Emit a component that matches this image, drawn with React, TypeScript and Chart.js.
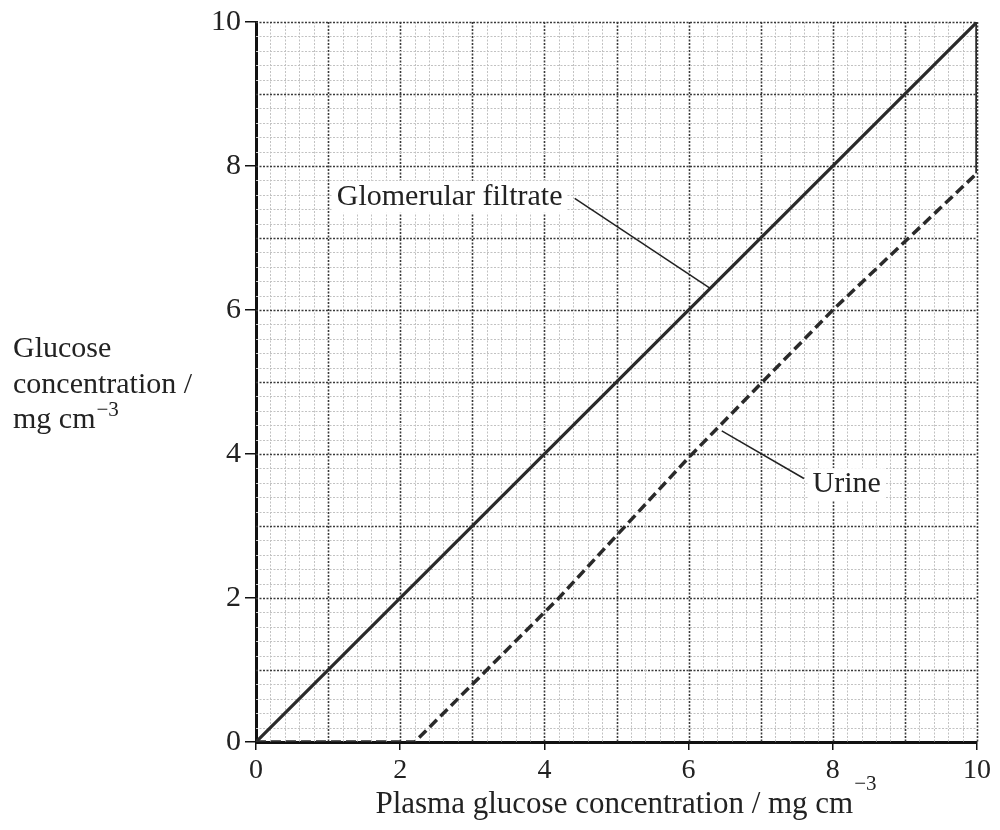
import React, { useEffect, useRef } from "react";
import { Chart, registerables } from "chart.js";

Chart.register(...registerables);

// ---- data ----
const plasmaFiltrate = [0, 10];
const filtrateGlucose = [0, 10];
const plasmaUrine = [0, 2.2, 4.2, 6, 8, 10];
const urineGlucose = [0, 0, 2, 3.95, 6, 7.9];
const edgePlasma = [10, 10];
const edgeGlucose = [10, 7.9];
const xTickValues = [0, 2, 4, 6, 8, 10];
const yTickValues = [0, 2, 4, 6, 8, 10];
const filtrateLabel = "Glomerular filtrate";
const urineLabel = "Urine";
const yTitleLines = ["Glucose", "concentration /", "mg cm"];
const xTitleText = "Plasma glucose concentration / mg cm";
const unitExponent = "\u22123";

// annotation anchors in data units
const annotations = [
  { text: filtrateLabel, textX: 1.12, textY: 7.46, from: [4.42, 7.55], to: [6.3, 6.3] },
  { text: urineLabel, textX: 7.72, textY: 3.47, from: [6.46, 4.32], to: [7.6, 3.66] },
];

const SERIF = "'Liberation Serif', 'Times New Roman', serif";
const INK = "#222";

const paperPlugin = {
  id: "paper",
  beforeDatasetsDraw(chart: any) {
    const { ctx, chartArea, scales } = chart;
    const xs = scales.x;
    const ys = scales.y;
    ctx.save();
    for (let i = 1; i <= 50; i++) {
      const v = i * 0.2;
      const major = i % 5 === 0;
      ctx.strokeStyle = major ? "#3a3a3a" : "#c2c2c2";
      ctx.lineWidth = major ? 1.6 : 1;
      ctx.setLineDash([2, 1.5]);
      const px = Math.round(xs.getPixelForValue(v)) + 0.5;
      const py = Math.round(ys.getPixelForValue(v)) + 0.5;
      ctx.beginPath();
      ctx.moveTo(px, chartArea.top);
      ctx.lineTo(px, chartArea.bottom);
      ctx.stroke();
      ctx.beginPath();
      ctx.moveTo(chartArea.left, py);
      ctx.lineTo(chartArea.right, py);
      ctx.stroke();
    }
    ctx.restore();
  },
  afterDatasetsDraw(chart: any) {
    const { ctx, scales } = chart;
    const xs = scales.x;
    const ys = scales.y;
    ctx.save();
    ctx.font = `30px ${SERIF}`;
    ctx.textBaseline = "alphabetic";
    ctx.textAlign = "left";
    for (const a of annotations) {
      const tx = xs.getPixelForValue(a.textX);
      const ty = ys.getPixelForValue(a.textY);
      const w = ctx.measureText(a.text).width;
      ctx.fillStyle = "#fff";
      ctx.fillRect(tx - 4, ty - 24, w + 8, 32);
      ctx.fillStyle = INK;
      ctx.fillText(a.text, tx, ty);
      ctx.strokeStyle = INK;
      ctx.lineWidth = 1.5;
      ctx.setLineDash([]);
      ctx.beginPath();
      ctx.moveTo(xs.getPixelForValue(a.from[0]), ys.getPixelForValue(a.from[1]));
      ctx.lineTo(xs.getPixelForValue(a.to[0]), ys.getPixelForValue(a.to[1]));
      ctx.stroke();
    }
    ctx.restore();
  },
  afterDraw(chart: any) {
    const { ctx } = chart;
    ctx.save();
    ctx.fillStyle = INK;
    ctx.textBaseline = "alphabetic";
    ctx.textAlign = "left";
    // y title (horizontal, three lines)
    ctx.font = `30px ${SERIF}`;
    const baselines = [357, 393, 428];
    yTitleLines.forEach((line, i) => ctx.fillText(line, 13, baselines[i]));
    const mgw = ctx.measureText(yTitleLines[2]).width;
    ctx.font = `21px ${SERIF}`;
    ctx.fillText(unitExponent, 13 + mgw + 1, 416);
    // x title
    ctx.font = `31px ${SERIF}`;
    const tw = ctx.measureText(xTitleText).width;
    ctx.font = `21px ${SERIF}`;
    const ew = ctx.measureText(unitExponent).width;
    const cx = 626;
    const left = cx - (tw + ew + 1) / 2;
    ctx.font = `31px ${SERIF}`;
    ctx.fillText(xTitleText, left, 813);
    ctx.font = `21px ${SERIF}`;
    ctx.fillText(unitExponent, left + tw + 1, 790);
    ctx.restore();
  },
};

export default function App() {
  const ref = useRef<HTMLCanvasElement | null>(null);

  useEffect(() => {
    document.body.style.margin = "0";
    const canvas = ref.current;
    if (!canvas) return;
    const chart = new Chart(canvas, {
      type: "scatter",
      data: {
        datasets: [
          {
            label: filtrateLabel,
            data: plasmaFiltrate.map((x, i) => ({ x, y: filtrateGlucose[i] })),
            showLine: true,
            borderColor: "#2a2a2a",
            borderWidth: 3.2,
            pointRadius: 0,
          },
          {
            label: urineLabel,
            data: plasmaUrine.map((x, i) => ({ x, y: urineGlucose[i] })),
            showLine: true,
            borderColor: "#2a2a2a",
            borderWidth: 3.5,
            borderDash: [10, 5],
            pointRadius: 0,
          },
          {
            label: "edge",
            data: edgePlasma.map((x, i) => ({ x, y: edgeGlucose[i] })),
            showLine: true,
            borderColor: "#2a2a2a",
            borderWidth: 3.5,
            pointRadius: 0,
          },
        ],
      },
      options: {
        responsive: false,
        animation: false,
        layout: { padding: { top: 22, right: 23, left: 0, bottom: 0 } },
        plugins: {
          legend: { display: false },
          tooltip: { enabled: false },
        },
        scales: {
          x: {
            type: "linear",
            min: 0,
            max: 10,
            afterBuildTicks: (s: any) => {
              s.ticks = xTickValues.map((value) => ({ value }));
            },
            afterFit: (s: any) => {
              s.height = 88;
            },
            border: { display: true, color: "#111", width: 3 },
            grid: {
              display: true,
              drawOnChartArea: false,
              drawTicks: true,
              tickLength: 8,
              color: "#111",
              lineWidth: 1.5,
            },
            ticks: {
              color: INK,
              padding: 4,
              font: { family: SERIF, size: 28 },
              maxRotation: 0,
            },
            title: { display: false },
          },
          y: {
            type: "linear",
            min: 0,
            max: 10,
            afterBuildTicks: (s: any) => {
              s.ticks = yTickValues.map((value) => ({ value }));
            },
            afterFit: (s: any) => {
              s.width = 256;
            },
            border: { display: true, color: "#111", width: 3 },
            grid: {
              display: true,
              drawOnChartArea: false,
              drawTicks: true,
              tickLength: 11,
              color: "#111",
              lineWidth: 1.5,
            },
            ticks: {
              color: INK,
              padding: 4,
              font: { family: SERIF, size: 30 },
            },
            title: { display: false },
          },
        },
      },
      plugins: [paperPlugin],
    });
    return () => chart.destroy();
  }, []);

  return (
    <div style={{ width: 1000, height: 830, background: "#fff" }}>
      <canvas ref={ref} width={1000} height={830} style={{ display: "block" }} />
    </div>
  );
}
